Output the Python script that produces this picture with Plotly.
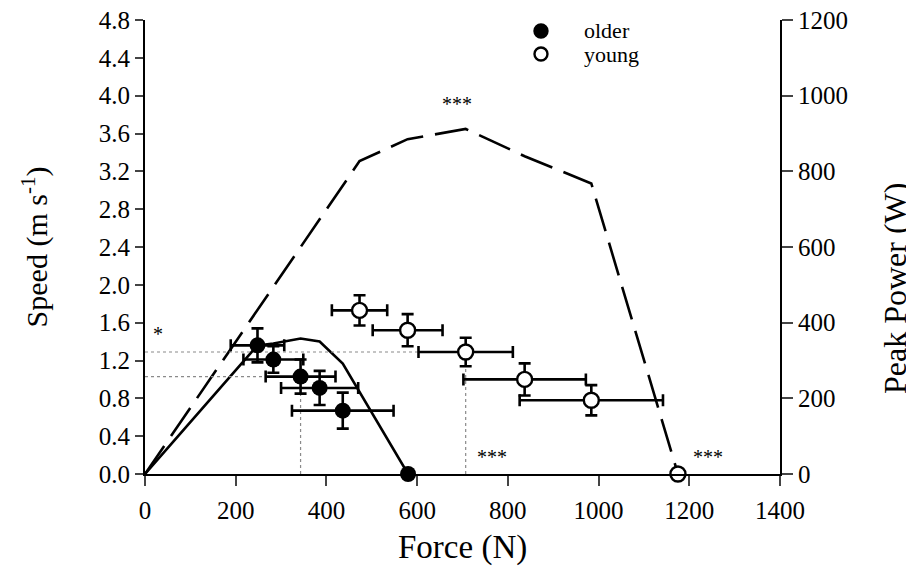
import plotly.graph_objects as go

# ---- data ----
older_force = [248, 283, 343, 385, 436]
older_speed = [1.36, 1.21, 1.03, 0.91, 0.67]
older_force_sd = [59, 66, 77, 85, 112]
older_speed_sd = [0.18, 0.14, 0.18, 0.18, 0.19]
older_fmax = [580]
older_zero = [0.0]

young_force = [473, 579, 707, 837, 984]
young_speed = [1.73, 1.52, 1.29, 1.00, 0.78]
young_force_sd = [61, 77, 104, 135, 158]
young_speed_sd = [0.16, 0.17, 0.15, 0.17, 0.16]
young_fmax = [1175]
young_zero = [0.0]

older_power_force = [0, 248, 283, 343, 385, 436, 580]
older_power = [0, 340, 345, 358, 350, 292, 0]
young_power_force = [0, 473, 579, 707, 837, 984, 1175]
young_power = [0, 827, 885, 912, 840, 768, 0]

speed_ticks = [0.0, 0.4, 0.8, 1.2, 1.6, 2.0, 2.4, 2.8, 3.2, 3.6, 4.0, 4.4, 4.8]
power_ticks = [0, 200, 400, 600, 800, 1000, 1200]
force_ticks = [0, 200, 400, 600, 800, 1000, 1200, 1400]

# significance marks
sig_force = [28, 688, 764, 1242]
sig_speed = [1.48, 3.91, 0.177, 0.177]
sig_text = ["*", "***", "***", "***"]

FONT = "Liberation Serif, Times New Roman, serif"

fig = go.Figure()

# dotted guide lines at the peak-power points (index 2 of each group)
i_o, i_y = 2, 2
fig.add_trace(go.Scatter(
    x=[0, older_force[i_o], None, older_force[i_o], older_force[i_o],
       None, 0, young_force[i_y], None, young_force[i_y], young_force[i_y]],
    y=[older_speed[i_o], older_speed[i_o], None, 0, older_speed[i_o],
       None, young_speed[i_y], young_speed[i_y], None, 0, young_speed[i_y]],
    mode="lines", line=dict(color="#8a8a8a", width=1.2, dash="dot"),
    yaxis="y2", showlegend=False, hoverinfo="skip"))

# power curves (right axis)
fig.add_trace(go.Scatter(
    x=older_power_force, y=older_power, mode="lines",
    line=dict(color="black", width=2.6), yaxis="y", showlegend=False,
    cliponaxis=False))
fig.add_trace(go.Scatter(
    x=young_power_force, y=young_power, mode="lines",
    line=dict(color="black", width=2.6, dash="34px,12px"), yaxis="y",
    showlegend=False, cliponaxis=False))

# speed points with error bars (left axis)
fig.add_trace(go.Scatter(
    x=older_force, y=older_speed, mode="markers", name="older",
    marker=dict(symbol="circle", size=16, color="black"),
    error_x=dict(type="data", array=older_force_sd, color="black", thickness=2.6, width=6),
    error_y=dict(type="data", array=older_speed_sd, color="black", thickness=2.6, width=6),
    yaxis="y2", showlegend=False, cliponaxis=False))
fig.add_trace(go.Scatter(
    x=older_fmax, y=older_zero, mode="markers",
    marker=dict(symbol="circle", size=16, color="black"),
    yaxis="y2", showlegend=False, cliponaxis=False))
fig.add_trace(go.Scatter(
    x=young_force, y=young_speed, mode="markers", name="young",
    marker=dict(symbol="circle", size=15, color="white", line=dict(color="black", width=2.4)),
    error_x=dict(type="data", array=young_force_sd, color="black", thickness=2.6, width=6),
    error_y=dict(type="data", array=young_speed_sd, color="black", thickness=2.6, width=6),
    yaxis="y2", showlegend=False, cliponaxis=False))
fig.add_trace(go.Scatter(
    x=young_fmax, y=young_zero, mode="markers",
    marker=dict(symbol="circle", size=15, color="white", line=dict(color="black", width=2.4)),
    yaxis="y2", showlegend=False, cliponaxis=False))

# significance marks
for fx, sy, t in zip(sig_force, sig_speed, sig_text):
    fig.add_annotation(x=fx, y=sy, xref="x", yref="y2", text=t, showarrow=False,
                       font=dict(family=FONT, size=20, color="black"))

# legend drawn as marker shapes + text
leg_names = ["older", "young"]
leg_y = [0.9758, 0.9251]
leg_fill = ["black", "white"]
for name, yy, fc in zip(leg_names, leg_y, leg_fill):
    fig.add_shape(type="circle", xref="paper", yref="paper",
                  xsizemode="pixel", ysizemode="pixel",
                  xanchor=0.6236, yanchor=yy, x0=-6.5, x1=6.5, y0=-6.5, y1=6.5,
                  fillcolor=fc, line=dict(color="black", width=2.4))
    fig.add_annotation(x=0.6898, y=yy, xref="paper", yref="paper", text=name,
                       showarrow=False, xanchor="left", yanchor="middle", borderpad=0,
                       font=dict(family=FONT, size=22, color="black"))

# axis titles placed as in the reference
fig.add_annotation(x=0.5, y=0, xref="paper", yref="paper", text="Force (N)",
                   showarrow=False, xanchor="center", yanchor="middle", yshift=-73,
                   font=dict(family=FONT, size=33, color="black"))
fig.add_annotation(x=(895 - 145) / 635, y=(474 - 288) / 454, xref="paper", yref="paper",
                   text="Peak Power (W)", textangle=-90, showarrow=False,
                   xanchor="center", yanchor="middle",
                   font=dict(family=FONT, size=32, color="black"))

fig.update_layout(
    width=906, height=564,
    margin=dict(l=137, r=134, t=12, b=98),
    paper_bgcolor="white", plot_bgcolor="white",
    font=dict(family=FONT, color="black"),
    xaxis=dict(range=[0, 1400], tickvals=force_ticks, ticks="outside", ticklen=10,
               tickwidth=2, showline=True, linewidth=2, linecolor="black",
               showgrid=False, zeroline=False, automargin=False,
               ticklabelstandoff=3, ticklabeloverflow="allow",
               tickfont=dict(family=FONT, size=25)),
    yaxis=dict(range=[0, 1200], tickvals=power_ticks, side="right", ticks="outside",
               ticklen=11, tickwidth=2, showline=True, linewidth=2, linecolor="black",
               showgrid=False, zeroline=False, automargin=False,
               ticklabeloverflow="allow",
               tickfont=dict(family=FONT, size=25)),
    yaxis2=dict(range=[0, 4.8], tickvals=speed_ticks, tickformat=".1f", side="left",
                overlaying="y", ticks="outside", ticklen=8, tickwidth=2,
                showline=True, linewidth=2, linecolor="black",
                showgrid=False, zeroline=False, automargin=False,
                ticklabeloverflow="allow",
                tickfont=dict(family=FONT, size=25),
                title=dict(text="Speed (m s<sup>-1</sup>)", font=dict(family=FONT, size=30), standoff=42)),
)

fig.write_html("out.html")
